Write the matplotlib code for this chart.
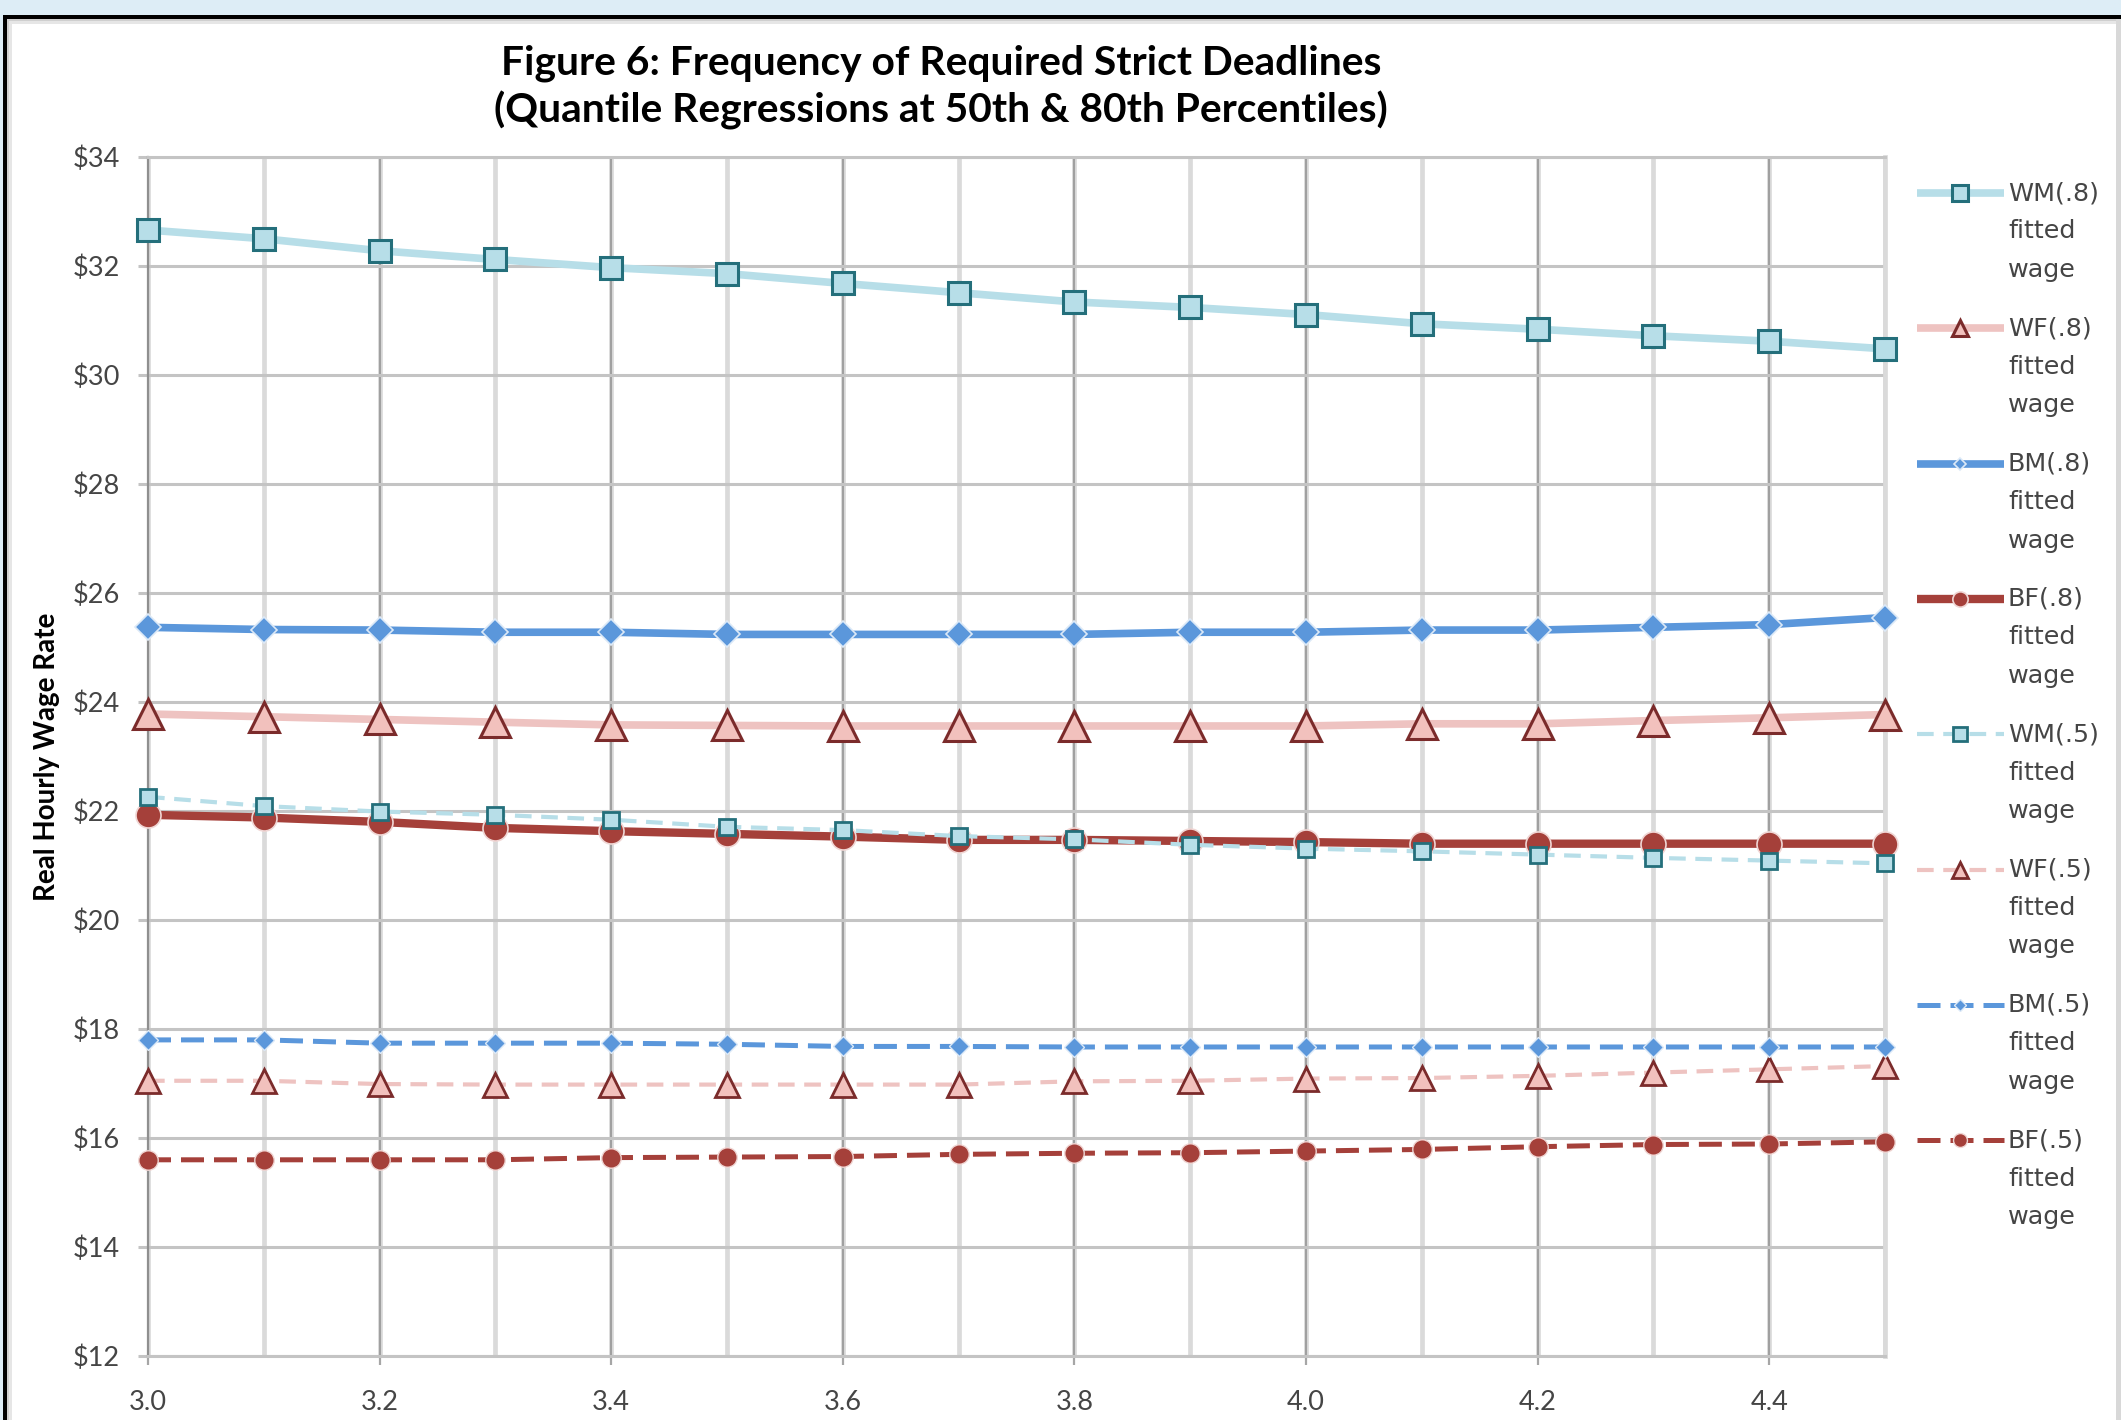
"""
Figure 6: quantile-regression fitted wages against deadline frequency.
Eight series (WM/WF/BM/BF at the 80th and 50th percentiles).
"""
import matplotlib
matplotlib.use("Agg")
import matplotlib.pyplot as plt
import matplotlib.patheffects as pe
from matplotlib.patches import Rectangle

# ── data ────────────────────────────────────────────────
X_VALUES = [3.0, 3.1, 3.2, 3.3, 3.4, 3.5, 3.6, 3.7, 3.8, 3.9, 4.0, 4.1, 4.2, 4.3, 4.4, 4.5]

WM_80 = [32.66, 32.50, 32.28, 32.12, 31.97, 31.86, 31.68, 31.51, 31.34, 31.24, 31.11, 30.94, 30.84, 30.72, 30.62, 30.48]
WF_80 = [23.78, 23.73, 23.68, 23.63, 23.58, 23.57, 23.56, 23.56, 23.56, 23.56, 23.56, 23.60, 23.60, 23.66, 23.71, 23.77]
BM_80 = [25.37, 25.33, 25.32, 25.28, 25.28, 25.24, 25.24, 25.24, 25.24, 25.28, 25.28, 25.32, 25.32, 25.37, 25.42, 25.55]
BF_80 = [21.93, 21.88, 21.80, 21.69, 21.63, 21.58, 21.53, 21.47, 21.47, 21.45, 21.43, 21.40, 21.40, 21.40, 21.40, 21.40]
WM_50 = [22.26, 22.09, 21.99, 21.93, 21.84, 21.71, 21.65, 21.54, 21.48, 21.38, 21.31, 21.26, 21.20, 21.14, 21.09, 21.04]
WF_50 = [17.05, 17.05, 16.99, 16.98, 16.98, 16.98, 16.98, 16.98, 17.04, 17.05, 17.09, 17.10, 17.14, 17.20, 17.26, 17.32]
BM_50 = [17.80, 17.80, 17.74, 17.74, 17.74, 17.72, 17.68, 17.68, 17.67, 17.67, 17.67, 17.67, 17.67, 17.67, 17.67, 17.67]
BF_50 = [15.60, 15.60, 15.60, 15.60, 15.64, 15.65, 15.66, 15.70, 15.72, 15.73, 15.76, 15.79, 15.84, 15.88, 15.89, 15.93]

SERIES_LABELS = ["WM(.8)", "WF(.8)", "BM(.8)", "BF(.8)", "WM(.5)", "WF(.5)", "BM(.5)", "BF(.5)"]
SERIES_VALUES = [WM_80, WF_80, BM_80, BF_80, WM_50, WF_50, BM_50, BF_50]
LEGEND_TAIL = ["fitted", "wage"]

X_TICKS = [3.0, 3.2, 3.4, 3.6, 3.8, 4.0, 4.2, 4.4]
Y_TICKS = [12, 14, 16, 18, 20, 22, 24, 26, 28, 30, 32, 34]

TITLE_LINES = ["Figure 6: Frequency of Required Strict Deadlines",
               "(Quantile Regressions at 50th & 80th Percentiles)"]
Y_LABEL = "Real Hourly Wage Rate"

# ── colours / styles ────────────────────────────────────
C = {
    "wm": "#b7dee8", "wm_edge": "#246f7b",
    "wf": "#eec3c1", "wf_face": "#f2c1bd", "wf_edge": "#7b2b2b",
    "bm": "#5b97db", "bm_edge": "#dce9f7",
    "bf": "#a5403a", "bf_edge": "#f0d6d4",
    "grid": "#c4c4c4", "vgrid": "#dadada", "vmajor": "#a0a0a0",
    "text": "#454545", "frame": "#ddedf6",
}

DASH_W = (0, (4.0, 2.3))
DASH_B = (0, (4.6, 2.0))

STYLES = {
    "WM(.8)": dict(color=C["wm"], lw=5.5, ls="-", marker="s", ms=15.5,
                   mfc=C["wm"], mec=C["wm_edge"], mew=2.2),
    "WF(.8)": dict(color=C["wf"], lw=5.5, ls="-", marker="^", ms=21,
                   mfc=C["wf_face"], mec=C["wf_edge"], mew=2.2),
    "BM(.8)": dict(color=C["bm"], lw=5.5, ls="-", marker="D", ms=13,
                   mfc=C["bm"], mec=C["bm_edge"], mew=1.2),
    "BF(.8)": dict(color=C["bf"], lw=6.0, ls="-", marker="o", ms=18,
                   mfc=C["bf"], mec=C["bf_edge"], mew=1.2),
    "WM(.5)": dict(color=C["wm"], lw=3.0, ls=DASH_W, marker="s", ms=11.5,
                   mfc=C["wm"], mec=C["wm_edge"], mew=2.0),
    "WF(.5)": dict(color=C["wf"], lw=3.0, ls=DASH_W, marker="^", ms=17,
                   mfc=C["wf_face"], mec=C["wf_edge"], mew=2.0),
    "BM(.5)": dict(color=C["bm"], lw=3.6, ls=DASH_B, marker="D", ms=10,
                   mfc=C["bm"], mec=C["bm_edge"], mew=1.0),
    "BF(.5)": dict(color=C["bf"], lw=3.6, ls=DASH_B, marker="o", ms=14,
                   mfc=C["bf"], mec=C["bf_edge"], mew=1.0),
}
LEGEND_MS = {"WM(.8)": 12, "WF(.8)": 12, "BM(.8)": 6, "BF(.8)": 11,
             "WM(.5)": 10, "WF(.5)": 11, "BM(.5)": 6, "BF(.5)": 10}

W, H = 2121, 1420

fig = plt.figure(figsize=(W / 100, H / 100), dpi=100)
fig.patch.set_facecolor(C["frame"])

# ── background panel (pixel coordinates) ─────────────────
bg = fig.add_axes([0, 0, 1, 1], zorder=0)
bg.set_xlim(0, W)
bg.set_ylim(H, 0)
bg.axis("off")
bg.add_patch(Rectangle((3, 15), W, H, color="black", lw=0))
bg.add_patch(Rectangle((7, 19), W, H, color="#cfcfcf", lw=0))
bg.add_patch(Rectangle((9, 21), W, H, color="#e6e6e6", lw=0))
bg.add_patch(Rectangle((12, 24), W, H, color="white", lw=0))
bg.add_patch(Rectangle((2116, 19), 5, H, color="#d8d8d8", lw=0))

# ── plot area ───────────────────────────────────────────
left, right, top, bottom = 148, 1885, 157, 1356
ax = fig.add_axes([left / W, 1 - bottom / H, (right - left) / W, (bottom - top) / H], zorder=1)
ax.set_facecolor("white")

for label, values in zip(SERIES_LABELS, SERIES_VALUES):
    ax.plot(X_VALUES, values, clip_on=False, zorder=3, solid_capstyle="butt", **STYLES[label])

ax.set_xlim(X_VALUES[0], X_VALUES[-1])
ax.set_ylim(Y_TICKS[0], Y_TICKS[-1])

ax.set_xticks(X_TICKS, labels=[f"{v:.1f}" for v in X_TICKS])
ax.set_xticks(X_VALUES, minor=True)
ax.set_yticks(Y_TICKS, labels=[f"${v}" for v in Y_TICKS])

ax.tick_params(axis="x", which="major", direction="out", length=6.5, width=1.6,
               color="#a6a6a6", pad=18, labelsize=19.5, labelcolor=C["text"])
ax.tick_params(axis="x", which="minor", length=0)
ax.tick_params(axis="y", which="major", direction="out", length=7.2, width=2.2,
               color=C["grid"], pad=13, labelsize=19.5, labelcolor=C["text"])
for lbl in ax.get_xticklabels() + ax.get_yticklabels():
    lbl.set_fontfamily("Lato")

ax.grid(axis="y", which="major", color=C["grid"], lw=2.2)
ax.grid(axis="x", which="minor", color=C["vgrid"], lw=3.4)
ax.grid(axis="x", which="major", color=C["vmajor"], lw=1.5,
        path_effects=[pe.Stroke(linewidth=3.4, foreground=C["vgrid"]), pe.Normal()])
ax.set_axisbelow(True)

ax.spines["top"].set_color(C["grid"])
ax.spines["top"].set_linewidth(2.2)
ax.spines["bottom"].set_color(C["grid"])
ax.spines["bottom"].set_linewidth(2.2)
ax.spines["left"].set_color("#8f8f8f")
ax.spines["left"].set_linewidth(1.6)
ax.spines["right"].set_color(C["vgrid"])
ax.spines["right"].set_linewidth(3.4)

# ── titles ──────────────────────────────────────────────
for i, line in enumerate(TITLE_LINES):
    fig.text(941 / W, 1 - (63 + 47 * i) / H, line, ha="center", va="center",
             fontsize=29.3, fontweight="bold", family="Lato", color="black")

fig.text(47 / W, 1 - 757 / H, Y_LABEL, rotation=90, ha="center", va="center",
         fontsize=20, fontweight="bold", family="Lato", color="black")

# ── legend (right column) ───────────────────────────────
for i, label in enumerate(SERIES_LABELS):
    y = 193 + 135.3 * i
    style = dict(STYLES[label])
    marker = style.pop("marker")
    style.pop("ms")
    bg.plot([1917, 2004], [y, y], marker="None", solid_capstyle="butt", **style)
    bg.plot([1960], [y], marker=marker, ms=LEGEND_MS[label], ls="None",
            mfc=style["mfc"], mec=style["mec"], mew=style["mew"])
    for j, txt in enumerate([label] + LEGEND_TAIL):
        bg.text(2008, y + 38.5 * j, txt, ha="left", va="center",
                fontsize=18.3, family="DejaVu Sans", color=C["text"])

fig.savefig("out.png", dpi=100, facecolor=fig.get_facecolor())
